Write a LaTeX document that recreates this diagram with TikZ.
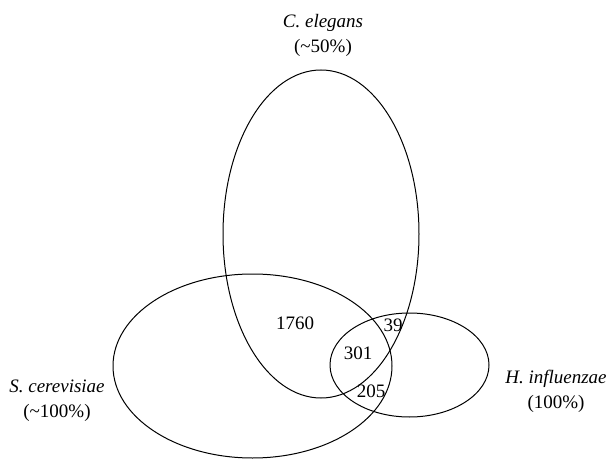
\documentclass[tikz,border=0pt]{standalone}
\usepackage{fontspec}
\setmainfont{Liberation Serif}
\usetikzlibrary{positioning}
\tikzset{
  setline/.style={draw=black, line width=1pt},
  species/.style={font=\fontsize{19}{25}\selectfont, align=center, inner sep=0pt},
  count/.style={font=\fontsize{19}{22}\selectfont, inner sep=0pt},
}

\begin{document}
\begin{tikzpicture}[x=1pt, y=-1pt]
\useasboundingbox (0,0) rectangle (611,460);
% the three sets
\draw[setline] (321,234) ellipse (98 and 164);
\draw[setline] (252.5,366) ellipse (139.5 and 92);
\draw[setline] (409.5,365) ellipse (79.5 and 52);
% set labels
\node[species] (elegans) at (323,35) {\textit{C. elegans}\\(\textasciitilde50\%)};
\node[species] (cerevisiae) at (57,401) {\textit{S. cerevisiae}\\(\textasciitilde100\%)};
\node[species] (influenzae) at (556,391) {\textit{H. influenzae}\\(100\%)};
% overlap counts
\node[count] (n1760) at (295,323) {1760};
\node[count] (n39) at (393,325) {39};
\node[count] (n301) at (358,353) {301};
\node[count] (n205) at (371,391) {205};
\end{tikzpicture}
\end{document}
